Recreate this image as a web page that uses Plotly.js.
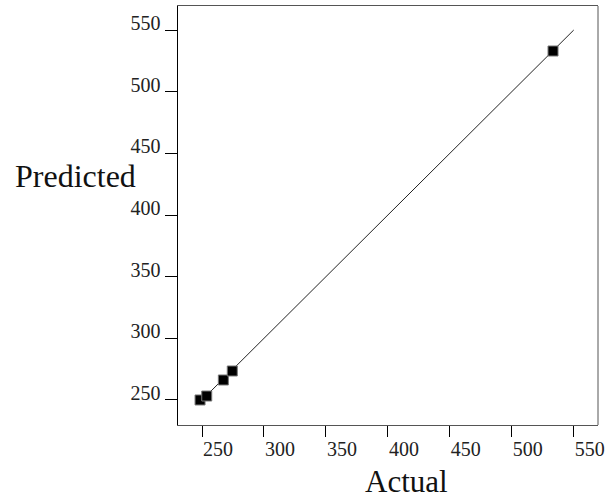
<!DOCTYPE html>
<html>
<head>
<meta charset="utf-8">
<script src="https://cdn.plot.ly/plotly-3.0.1.min.js"></script>
<style>html,body{margin:0;padding:0;background:#fff;}#chart{width:606px;height:500px;}</style>
</head>
<body>
<div id="chart"></div>
<script>
const actual = [248.4, 253.8, 267.2, 274.4, 533.3];
const predicted = [250, 253.2, 266.2, 273.5, 533];
const refLine = [250, 550];
const tickVals = [250, 300, 350, 400, 450, 500, 550];
const tickText = ["250", "300", "350", "400", "450", "500", "550"];

const font = "Liberation Serif, Times New Roman, serif";

const traces = [
  {
    x: refLine, y: refLine, mode: "lines", type: "scatter",
    line: {color: "#222", width: 1}, hoverinfo: "skip", showlegend: false
  },
  {
    x: actual, y: predicted, mode: "markers", type: "scatter",
    marker: {symbol: "square", size: 10, color: "#000", line: {color: "#777", width: 1}},
    showlegend: false
  }
];

const layout = {
  width: 606, height: 500,
  margin: {l: 178, r: 8, t: 6, b: 75},
  paper_bgcolor: "#fff", plot_bgcolor: "#fff",
  font: {family: font, color: "#222", size: 20},
  showlegend: false,
  xaxis: {
    range: [230.6, 569.6], tickvals: tickVals, ticktext: tickText,
    ticks: "outside", ticklen: 11, tickwidth: 1, tickcolor: "#000",
    showgrid: false, zeroline: false,
    showline: true, linecolor: "#555", linewidth: 1, mirror: true,
    ticklabelshift: 16, ticklabelstandoff: -5,
    tickfont: {family: font, size: 20, color: "#222"}
  },
  yaxis: {
    range: [229.7, 569.5], tickvals: tickVals, ticktext: tickText,
    ticks: "outside", ticklen: 12, tickwidth: 1, tickcolor: "#000",
    showgrid: false, zeroline: false,
    showline: true, linecolor: "#000", linewidth: 1.5,
    ticklabelshift: -7, ticklabelstandoff: 0,
    tickfont: {family: font, size: 20, color: "#222"}
  },
  shapes: [
    {type: "line", xref: "paper", yref: "paper", x0: 1, x1: 1, y0: 0, y1: 1,
     line: {color: "#555", width: 1}}
  ],
  annotations: [
    {text: "Predicted", xref: "paper", yref: "paper", x: -0.095, y: 0.594,
     xanchor: "right", yanchor: "middle", showarrow: false,
     font: {family: font, size: 32, color: "#111"}},
    {text: "Actual", xref: "paper", yref: "paper", x: 0.544, y: -0.134,
     xanchor: "center", yanchor: "middle", showarrow: false,
     font: {family: font, size: 31, color: "#111"}}
  ]
};

Plotly.newPlot("chart", traces, layout, {displayModeBar: false, staticPlot: true});
</script>
</body>
</html>
